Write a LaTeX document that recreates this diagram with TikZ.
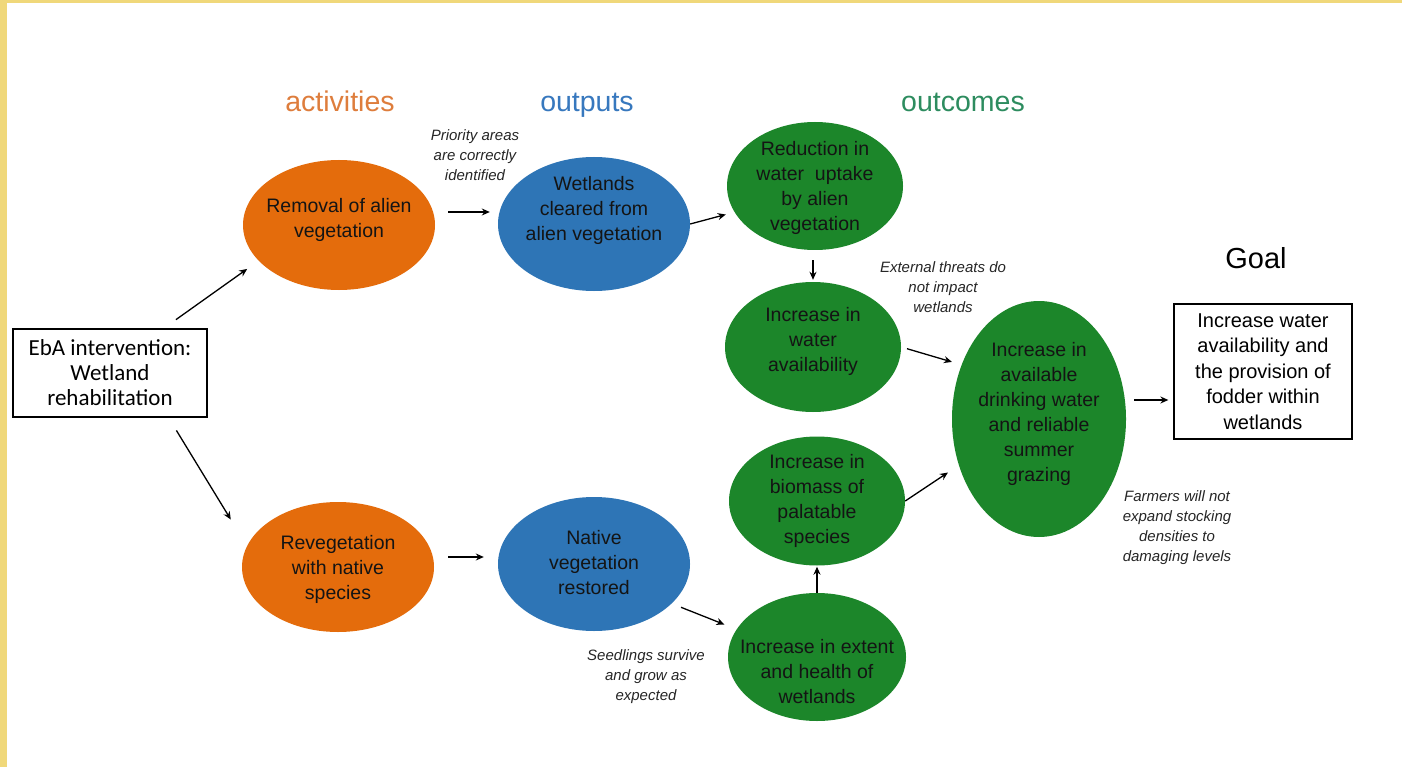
\documentclass[tikz,border=0pt]{standalone}
\usepackage{fontspec}
\setmainfont{Liberation Sans}
\newfontfamily\calib{Carlito}
\usetikzlibrary{shapes.geometric,arrows.meta,calc}
\definecolor{framey}{RGB}{240,216,122}
\definecolor{orgfill}{RGB}{228,108,12}
\definecolor{bluefill}{RGB}{46,117,182}
\definecolor{greenfill}{RGB}{28,134,42}
\definecolor{acttitle}{RGB}{222,125,60}
\definecolor{outtitle}{RGB}{55,120,190}
\definecolor{occtitle}{RGB}{45,140,95}
\begin{document}
\begin{tikzpicture}[x=1pt,y=-1pt,
  oval/.style={ellipse,draw=none,inner sep=0pt},
  actov/.style={oval,fill=orgfill,minimum width=192pt,minimum height=130pt},
  outov/.style={oval,fill=bluefill,minimum width=192pt,minimum height=134pt},
  occov/.style={oval,fill=greenfill,minimum width=176pt,minimum height=129pt},
  intext/.style={align=center,text=black!92,inner sep=0pt,font=\fontsize{19.5}{25}\selectfont},
  boxnode/.style={draw=black,line width=1.3pt,inner sep=0pt,align=center},
  note/.style={align=center,inner sep=0pt,text=black!85,font=\fontsize{15}{20}\selectfont\itshape},
  title/.style={anchor=base,inner sep=0pt,font=\fontsize{28.5}{30}\selectfont},
  arr/.style={-{Stealth[length=8pt,width=7pt]},line width=1.3pt,black}
]
\useasboundingbox (0,0) rectangle (1402,767);
\fill[framey] (0,0) rectangle (1402,767);
\fill[white] (7,3.5) rectangle (1402,767);

% titles
\node[title,text=acttitle] (tact) at (340,112) {activities};
\node[title,text=outtitle] (tout) at (587,112) {outputs};
\node[title,text=occtitle] (tocc) at (963,112) {outcomes};
\node[title,text=black,font=\fontsize{29}{30}\selectfont] (tgoal) at (1256,269) {Goal};

% start box
\node[boxnode,minimum width=194pt,minimum height=88pt,font=\calib\fontsize{23}{25}\selectfont] (eba) at (110,373)
  {EbA intervention:\\Wetland\\rehabilitation};

% activities
\node[actov] (rem) at (339,225) {};
\node[intext] (remT) at (339,220) {Removal of alien\\vegetation};
\node[actov] (reveg) at (338,567) {};
\node[intext] (revegT) at (338,569) {Revegetation\\with native\\species};

% outputs
\node[outov] (wet) at (594,224) {};
\node[intext] (wetT) at (594,210) {Wetlands\\cleared from\\alien vegetation};
\node[outov] (nat) at (594,564) {};
\node[intext] (natT) at (594,563) {Native\\vegetation\\restored};

% outcomes
\node[occov,minimum height=128pt] (red) at (815,186) {};
\node[intext] (redT) at (815,188) {Reduction in\\water\ \ uptake\\by alien\\vegetation};
\node[occov,minimum height=130pt] (incw) at (813,347) {};
\node[intext] (incwT) at (813,341) {Increase in\\water\\availability};
\node[occov] (bio) at (817,501) {};
\node[intext] (bioT) at (817,501) {Increase in\\biomass of\\palatable\\species};
\node[occov,minimum width=178pt,minimum height=128pt] (ext) at (817,657) {};
\node[intext] (extT) at (817,672) {Increase in extent\\and health of\\wetlands};
\node[oval,fill=greenfill,minimum width=174pt,minimum height=236pt] (big) at (1039,419) {};
\node[intext] (bigT) at (1039,413.5) {Increase in\\available\\drinking water\\and reliable\\summer\\grazing};

% goal box
\node[boxnode,minimum width=178pt,minimum height=135pt,font=\fontsize{20}{25.5}\selectfont] (goal) at (1263,371.5)
  {Increase water\\availability and\\the provision of\\fodder within\\wetlands};

% notes
\node[note] (n1) at (475,155) {Priority areas\\are correctly\\identified};
\node[note] (n2) at (943,287) {External threats do\\not impact\\wetlands};
\node[note] (n3) at (646,677) {Seedlings survive\\and grow as\\expected};
\node[note] (n4) at (1177,527.5) {Farmers will not\\expand stocking\\densities to\\damaging levels};

% connectors
\draw[arr,shorten <=15pt,shorten >=14pt] ($(eba.north)!0.55!(eba.north east)$) -- (rem.204);
\draw[arr,shorten <=15pt,shorten >=31pt] ($(eba.south)!0.6!(eba.south east)$) -- (reveg.167);
\draw[arr,shorten <=13pt,shorten >=8pt] ([yshift=13pt]rem.east) -- ([yshift=12pt]wet.west);
\draw[arr,shorten <=14pt,shorten >=14pt] ([yshift=10pt]reveg.east) -- ([yshift=7pt]nat.west);
\draw[arr,shorten <=0pt,shorten >=9pt] (wet.east) -- (red.198);
\draw[arr,shorten <=10pt,shorten >=2pt] ([xshift=-2pt]red.south) -- (incw.north);
\draw[arr,shorten <=6pt,shorten >=10pt] (incw.east) -- (big.145);
\draw[arr,shorten <=0pt,shorten >=13pt] (bio.east) -- (big.210);
\draw[arr,shorten <=10pt,shorten >=13pt] (nat.333) -- (ext.161);
\draw[arr,shorten <=0pt,shorten >=1pt] (ext.north) -- (bio.south);
\draw[arr,shorten <=8pt,shorten >=5pt] ([yshift=19pt]big.east) -- ([yshift=-28.5pt]goal.west);
\end{tikzpicture}
\end{document}
